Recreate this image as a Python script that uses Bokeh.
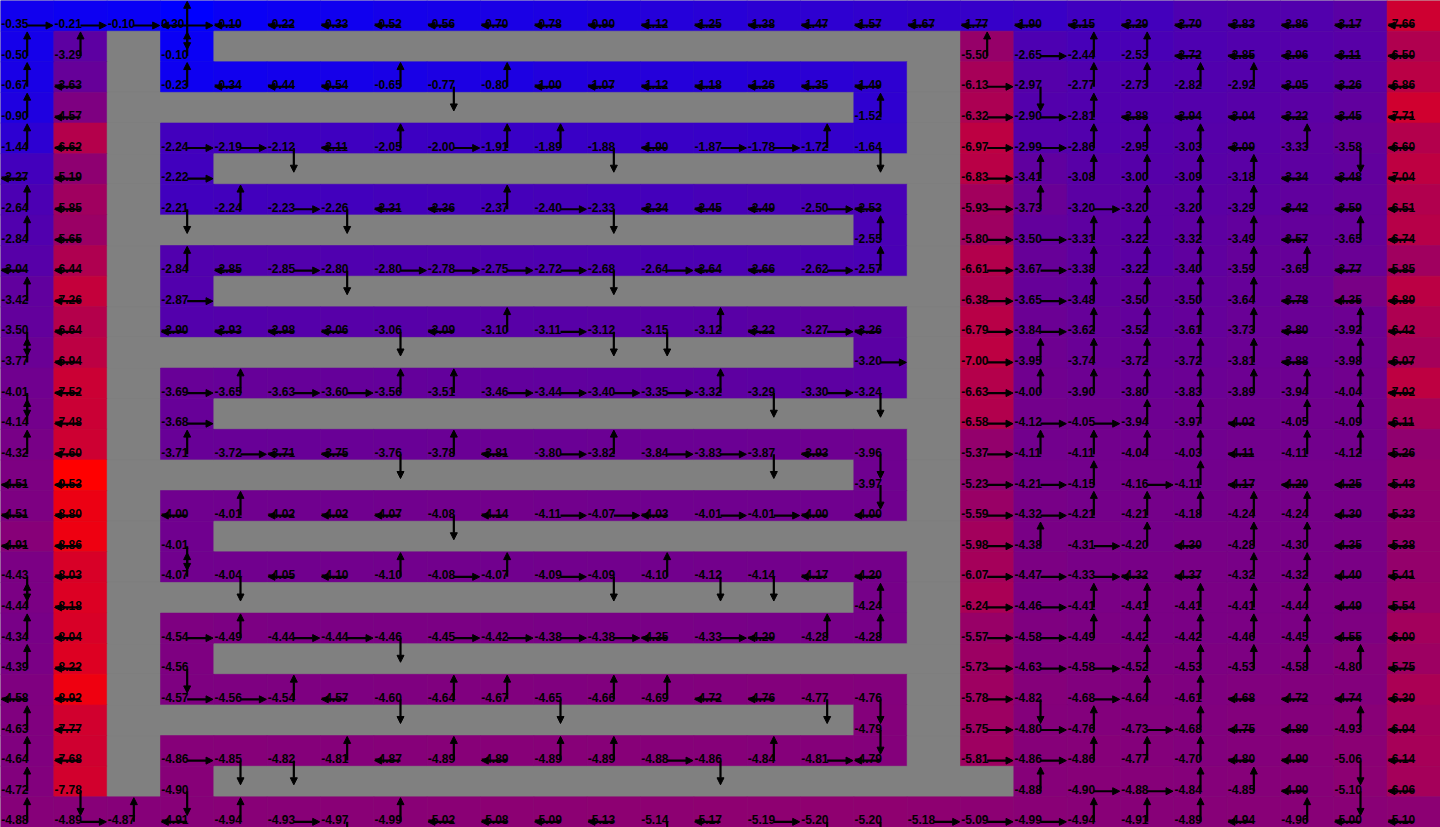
from bokeh.plotting import figure
from bokeh.models import ColumnDataSource, Range1d, Arrow, NormalHead
from bokeh.embed import file_html
from bokeh.resources import INLINE
from bokeh.core.properties import value

N = None
# state values, one list per grid row (None = wall)
values = [
    [-0.35, -0.21, -0.10, 0.30, -0.10, -0.22, -0.33, -0.52, -0.56, -0.70, -0.78, -0.90, -1.12, -1.25, -1.38, -1.47, -1.57, -1.67, -1.77, -1.90, -2.15, -2.29, -2.70, -2.83, -2.86, -3.17, -7.66],
    [-0.50, -3.29, N, -0.10, N, N, N, N, N, N, N, N, N, N, N, N, N, N, -5.50, -2.65, -2.44, -2.53, -2.72, -2.85, -2.96, -3.11, -6.50],
    [-0.67, -3.63, N, -0.23, -0.34, -0.44, -0.54, -0.65, -0.77, -0.80, -1.00, -1.07, -1.12, -1.18, -1.26, -1.35, -1.49, N, -6.13, -2.97, -2.77, -2.73, -2.82, -2.92, -3.05, -3.26, -6.86],
    [-0.90, -4.57, N, N, N, N, N, N, N, N, N, N, N, N, N, N, -1.52, N, -6.32, -2.90, -2.81, -2.88, -2.94, -3.04, -3.22, -3.45, -7.71],
    [-1.44, -6.62, N, -2.24, -2.19, -2.12, -2.11, -2.05, -2.00, -1.91, -1.89, -1.88, -1.90, -1.87, -1.78, -1.72, -1.64, N, -6.97, -2.99, -2.86, -2.95, -3.03, -3.09, -3.33, -3.58, -6.60],
    [-2.27, -5.19, N, -2.22, N, N, N, N, N, N, N, N, N, N, N, N, N, N, -6.83, -3.41, -3.08, -3.00, -3.09, -3.18, -3.34, -3.48, -7.04],
    [-2.64, -5.85, N, -2.21, -2.24, -2.23, -2.26, -2.31, -2.36, -2.37, -2.40, -2.33, -2.34, -2.45, -2.49, -2.50, -2.53, N, -5.93, -3.73, -3.20, -3.20, -3.20, -3.29, -3.42, -3.59, -6.51],
    [-2.84, -5.65, N, N, N, N, N, N, N, N, N, N, N, N, N, N, -2.55, N, -5.80, -3.50, -3.31, -3.22, -3.32, -3.49, -3.57, -3.65, -6.74],
    [-3.04, -6.44, N, -2.84, -2.85, -2.85, -2.80, -2.80, -2.78, -2.75, -2.72, -2.68, -2.64, -2.64, -2.66, -2.62, -2.57, N, -6.61, -3.67, -3.38, -3.22, -3.40, -3.59, -3.65, -3.77, -5.85],
    [-3.42, -7.26, N, -2.87, N, N, N, N, N, N, N, N, N, N, N, N, N, N, -6.38, -3.65, -3.48, -3.50, -3.50, -3.64, -3.78, -4.35, -6.89],
    [-3.50, -6.64, N, -2.90, -2.93, -2.98, -3.06, -3.06, -3.09, -3.10, -3.11, -3.12, -3.15, -3.12, -3.22, -3.27, -3.26, N, -6.79, -3.84, -3.62, -3.52, -3.61, -3.73, -3.80, -3.92, -6.42],
    [-3.77, -6.94, N, N, N, N, N, N, N, N, N, N, N, N, N, N, -3.20, N, -7.00, -3.95, -3.74, -3.72, -3.72, -3.81, -3.88, -3.98, -6.07],
    [-4.01, -7.52, N, -3.69, -3.65, -3.63, -3.60, -3.56, -3.51, -3.46, -3.44, -3.40, -3.35, -3.32, -3.29, -3.30, -3.24, N, -6.63, -4.00, -3.90, -3.80, -3.83, -3.89, -3.94, -4.04, -7.02],
    [-4.14, -7.48, N, -3.68, N, N, N, N, N, N, N, N, N, N, N, N, N, N, -6.58, -4.12, -4.05, -3.94, -3.97, -4.02, -4.05, -4.09, -6.11],
    [-4.32, -7.60, N, -3.71, -3.72, -3.71, -3.75, -3.76, -3.78, -3.81, -3.80, -3.82, -3.84, -3.83, -3.87, -3.93, -3.96, N, -5.37, -4.11, -4.11, -4.04, -4.03, -4.11, -4.11, -4.12, -5.26],
    [-4.51, -9.53, N, N, N, N, N, N, N, N, N, N, N, N, N, N, -3.97, N, -5.23, -4.21, -4.15, -4.16, -4.11, -4.17, -4.20, -4.25, -5.43],
    [-4.51, -8.80, N, -4.00, -4.01, -4.02, -4.02, -4.07, -4.08, -4.14, -4.11, -4.07, -4.03, -4.01, -4.01, -4.00, -4.00, N, -5.59, -4.32, -4.21, -4.21, -4.18, -4.24, -4.24, -4.30, -5.33],
    [-4.91, -8.86, N, -4.01, N, N, N, N, N, N, N, N, N, N, N, N, N, N, -5.98, -4.38, -4.31, -4.20, -4.30, -4.28, -4.30, -4.35, -5.38],
    [-4.43, -8.03, N, -4.07, -4.04, -4.05, -4.10, -4.10, -4.08, -4.07, -4.09, -4.09, -4.10, -4.12, -4.14, -4.17, -4.20, N, -6.07, -4.47, -4.33, -4.32, -4.37, -4.32, -4.32, -4.40, -5.41],
    [-4.44, -8.18, N, N, N, N, N, N, N, N, N, N, N, N, N, N, -4.24, N, -6.24, -4.46, -4.41, -4.41, -4.41, -4.41, -4.44, -4.49, -5.54],
    [-4.34, -8.04, N, -4.54, -4.49, -4.44, -4.44, -4.46, -4.45, -4.42, -4.38, -4.38, -4.35, -4.33, -4.29, -4.28, -4.28, N, -5.57, -4.58, -4.49, -4.42, -4.42, -4.46, -4.45, -4.55, -6.00],
    [-4.39, -8.22, N, -4.56, N, N, N, N, N, N, N, N, N, N, N, N, N, N, -5.73, -4.63, -4.58, -4.52, -4.53, -4.53, -4.58, -4.80, -5.75],
    [-4.58, -8.92, N, -4.57, -4.56, -4.54, -4.57, -4.60, -4.64, -4.67, -4.65, -4.66, -4.69, -4.72, -4.76, -4.77, -4.76, N, -5.78, -4.82, -4.68, -4.64, -4.61, -4.68, -4.72, -4.74, -6.30],
    [-4.63, -7.77, N, N, N, N, N, N, N, N, N, N, N, N, N, N, -4.79, N, -5.75, -4.80, -4.76, -4.73, -4.68, -4.75, -4.80, -4.93, -6.04],
    [-4.64, -7.68, N, -4.86, -4.85, -4.82, -4.81, -4.87, -4.89, -4.89, -4.89, -4.89, -4.88, -4.86, -4.84, -4.81, -4.79, N, -5.81, -4.86, -4.86, -4.77, -4.70, -4.80, -4.90, -5.06, -6.14],
    [-4.72, -7.78, N, -4.90, N, N, N, N, N, N, N, N, N, N, N, N, N, N, N, -4.88, -4.90, -4.88, -4.84, -4.85, -4.90, -5.10, -6.06],
    [-4.88, -4.89, -4.87, -4.91, -4.94, -4.93, -4.97, -4.99, -5.02, -5.08, -5.09, -5.13, -5.14, -5.17, -5.19, -5.20, -5.20, -5.18, -5.09, -4.99, -4.94, -4.91, -4.89, -4.94, -4.96, -5.00, -5.10],
]

# greedy action per cell: U/D/L/R, A = all four, # = wall
policy = [
    "RRRALLLLLLLLLLLLLLLLLLLLLLL",
    "UU#U##############URUULLLLL",
    "UL#ULLLUDULLLLLLL#RDUUUULLL",
    "UL##############U#RRULLLLLL",
    "UL#RRDLURUUDLRRUD#RRUUULUDL",
    "LL#R##############RUUUUULLL",
    "UL#DURDLLURDLLLRL#RURUUULLL",
    "UL##############U#RRUUUULUL",
    "LL#ULRDRRRRDRLLRU#RRUUUUULL",
    "UL#R##############RRUUUULLL",
    "DL#LLLLDLURDDULRL#RRUUUULUL",
    "UL##############R#RUUUUULUL",
    "DL#RURRUURRRRUDRD#RUUUUUUUL",
    "UL#R##############RRRUULUUL",
    "UL#URLLDULRURRDLD#RUUUULUUL",
    "LL##############D#RRURULLLL",
    "LL#LULLLDLRRLRRLL#RRUUUUULL",
    "LL#D##############RURULUULL",
    "DL#UDLLURURDUDDLL#RRRLLUULL",
    "UL##############U#RRUUUUULL",
    "UL#RURRDRRRRLRLUU#RRUUUUULL",
    "UL#D##############RRRUUUUUL",
    "LL#RRULDUUDUULLDD#RDRUULLLL",
    "UL##############D#RRURULLUL",
    "UL#RDDULULUURDURL#RRUUULLDL",
    "UD#D###############URRUULDL",
    "URULURDULLLLDLRDDRRRUUULULL",
]

NR = len(values)
NC = len(values[0])
WALL = "#808080"

flat = [v for row in values for v in row if v is not None]
vmax, vmin = max(flat), min(flat)


def cell_color(v):
    if v is None:
        return WALL
    t = (vmax - v) / (vmax - vmin)
    r = int(round(255 * t))
    b = 255 - r
    return "#%02x00%02x" % (r, b)


left, right, top, bottom, colors = [], [], [], [], []
tx, ty, tt = [], [], []
ax0, ay0, ax1, ay1 = [], [], [], []
AY = 0.816   # arrow origin inside a cell (fraction of row height)
HX = 0.485   # horizontal arrow length (cells)
VY = 0.79    # vertical arrow length (rows)
for r in range(NR):
    for c in range(NC):
        v = values[r][c]
        left.append(c); right.append(c + 1); top.append(r); bottom.append(r + 1)
        colors.append(cell_color(v))
        if v is None:
            continue
        tx.append(c + 0.012); ty.append(r + 0.755); tt.append("%.2f" % v)
        a = policy[r][c]
        dirs = "UDLR" if a == "A" else a
        x0, y0 = c + 0.5, r + AY
        for d in dirs:
            if d == "U":
                x1, y1 = x0, y0 - VY
            elif d == "D":
                x1, y1 = x0, y0 + VY
            elif d == "L":
                x1, y1 = x0 - HX, y0
            else:
                x1, y1 = x0 + HX, y0
            ax0.append(x0); ay0.append(y0); ax1.append(x1); ay1.append(y1)

p = figure(width=1440, height=827, x_range=Range1d(0, NC), y_range=Range1d(NR, 0),
           output_backend="svg", toolbar_location=None, min_border=0)
p.axis.visible = False
p.grid.visible = False
p.outline_line_color = None
p.background_fill_color = WALL
p.border_fill_color = WALL

cells = ColumnDataSource(dict(left=left, right=right, top=top, bottom=bottom, color=colors))
p.quad(left="left", right="right", top="top", bottom="bottom", source=cells,
       fill_color="color", line_color="color", line_width=0.6)

labels = ColumnDataSource(dict(x=tx, y=ty, text=tt))
p.text(x="x", y="y", text="text", source=labels, text_font=value("Liberation Sans"),
       text_font_size="12px", text_font_style="bold", text_color="black",
       text_align="left", text_baseline="alphabetic")

arrows = ColumnDataSource(dict(x0=ax0, y0=ay0, x1=ax1, y1=ay1))
p.add_layout(Arrow(source=arrows, x_start="x0", y_start="y0", x_end="x1", y_end="y1",
                   line_color="black", line_width=2.2,
                   end=NormalHead(size=7, fill_color="black", line_color="black", line_width=1)))

open("out.html", "w").write(file_html(p, INLINE))
